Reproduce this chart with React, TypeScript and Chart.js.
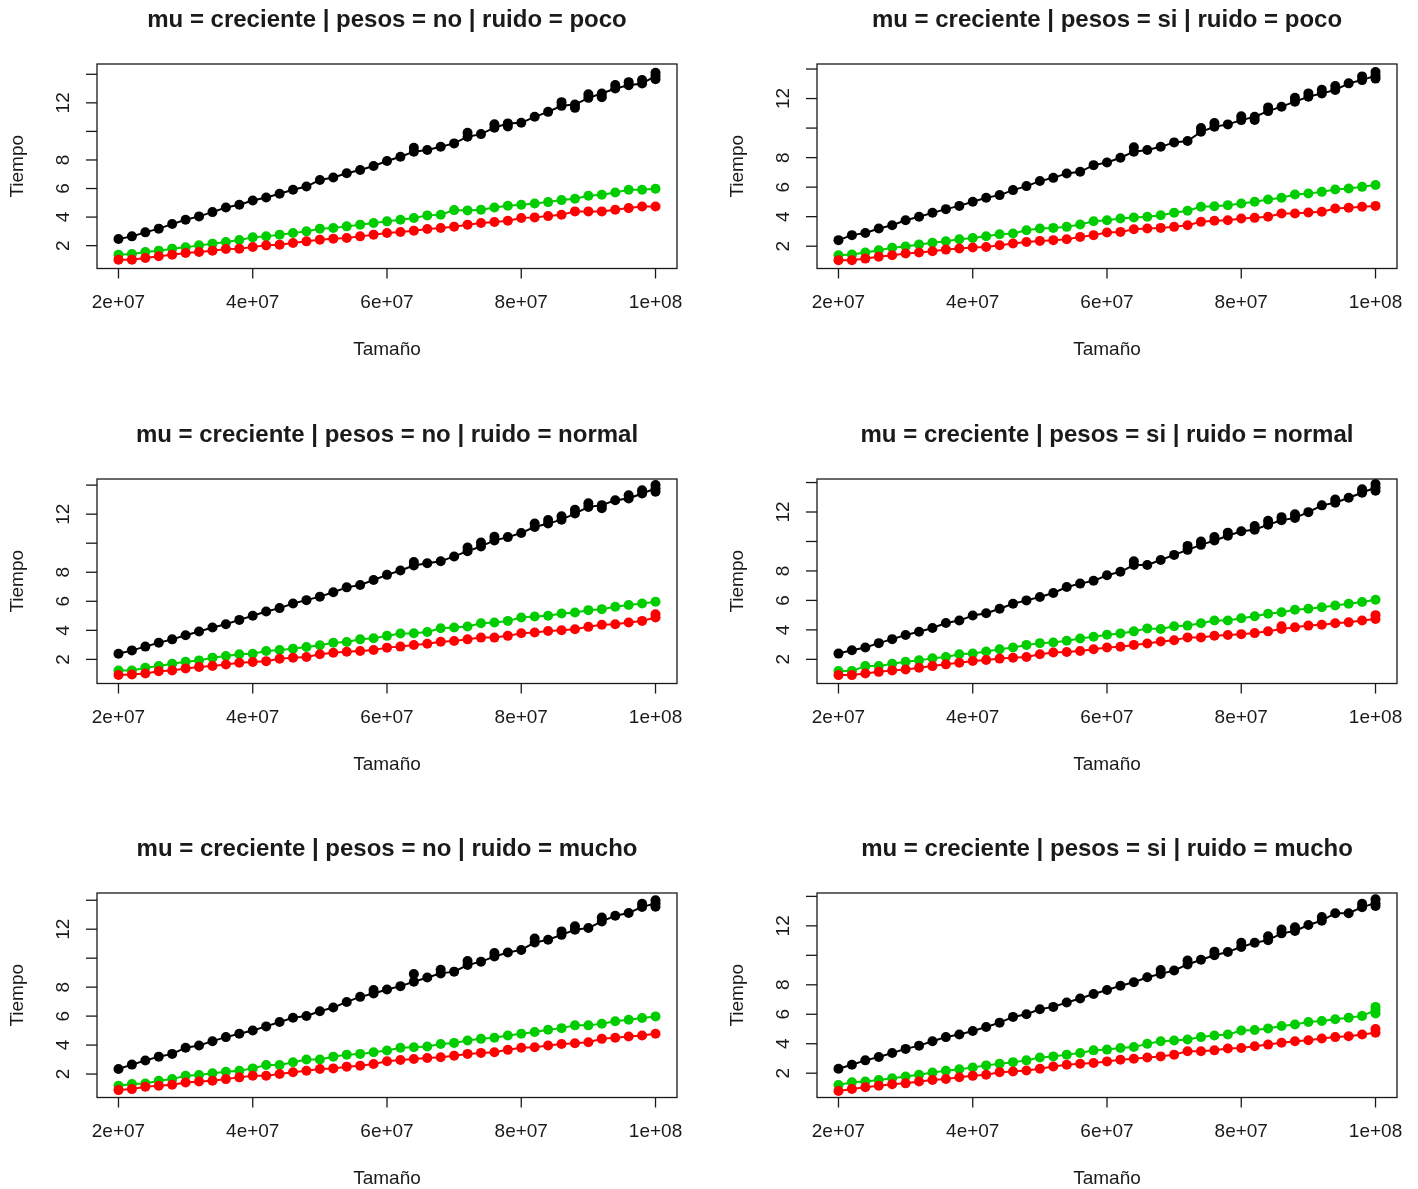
import React, { useEffect, useRef } from "react";
import { Chart, registerables } from "chart.js";

Chart.register(...registerables);

// ---------- data ----------
const TAMANO_MILLONES = [
  20, 22, 24, 26, 28, 30, 32, 34, 36, 38, 40, 42, 44, 46, 48, 50, 52, 54, 56, 58, 60,
  62, 64, 66, 68, 70, 72, 74, 76, 78, 80, 82, 84, 86, 88, 90, 92, 94, 96, 98, 100,
];

const TITULOS = [
  "mu = creciente | pesos = no | ruido = poco",
  "mu = creciente | pesos = si | ruido = poco",
  "mu = creciente | pesos = no | ruido = normal",
  "mu = creciente | pesos = si | ruido = normal",
  "mu = creciente | pesos = no | ruido = mucho",
  "mu = creciente | pesos = si | ruido = mucho",
];

const X_TICKS = [2e7, 4e7, 6e7, 8e7, 1e8];
const X_TICK_LABELS = ["2e+07", "4e+07", "6e+07", "8e+07", "1e+08"];
const Y_TICKS = [2, 4, 6, 8, 10, 12, 14];
const Y_TICK_LABELS = ["2", "4", "6", "8", "", "12", ""];
const X_LIMITS = [1.68e7, 1.032e8];
const Y_MIN = [0.4, 0.49, 0.34, 0.36, 0.38, 0.35];
const Y_MAX = [14.72, 14.34, 14.42, 14.24, 14.5, 14.23];

// panel 1: pesos = no, ruido = poco
const P1_NEGRO = [2.47, 2.65, 2.93, 3.19, 3.51, 3.81, 4.05, 4.35, 4.67, 4.86, 5.16, 5.37, 5.63, 5.91, 6.14, 6.6, 6.77, 7.07, 7.3, 7.58, 7.93, 8.23, 8.58, 8.7, 8.93, 9.16, 9.63, 9.81, 10.26, 10.56, 10.6, 11.02, 11.37, 11.79, 11.88, 12.35, 12.65, 13.0, 13.23, 13.35, 13.88];
const P1_VERDE = [1.37, 1.42, 1.56, 1.65, 1.79, 1.88, 2.02, 2.14, 2.26, 2.4, 2.58, 2.65, 2.77, 2.88, 3.0, 3.19, 3.23, 3.35, 3.47, 3.58, 3.7, 3.81, 3.93, 4.12, 4.16, 4.49, 4.47, 4.51, 4.67, 4.79, 4.86, 4.95, 5.05, 5.19, 5.28, 5.49, 5.56, 5.72, 5.91, 5.91, 5.98];
const P1_ROJO = [1.02, 1.02, 1.14, 1.26, 1.37, 1.49, 1.56, 1.65, 1.77, 1.79, 1.91, 2.02, 2.07, 2.19, 2.3, 2.42, 2.49, 2.53, 2.65, 2.77, 2.88, 2.95, 3.05, 3.16, 3.23, 3.33, 3.47, 3.58, 3.65, 3.74, 3.93, 3.98, 4.07, 4.16, 4.4, 4.4, 4.4, 4.51, 4.63, 4.74, 4.74];
// extra replicate points (visible vertical stacks)
const P1_REP_NEGRO_X = [64, 72, 76, 78, 86, 88, 90, 92, 94, 96, 98, 100, 100];
const P1_REP_NEGRO_Y = [8.85, 9.9, 10.5, 10.35, 12.05, 11.65, 12.6, 12.4, 13.25, 13.45, 13.6, 14.1, 13.65];

// panel 2: pesos = si, ruido = poco
const P2_NEGRO = [2.41, 2.75, 2.9, 3.2, 3.42, 3.76, 3.99, 4.26, 4.51, 4.73, 5.01, 5.28, 5.46, 5.8, 6.07, 6.41, 6.63, 6.93, 7.04, 7.49, 7.67, 7.99, 8.4, 8.51, 8.73, 9.03, 9.12, 9.75, 10.09, 10.25, 10.54, 10.77, 11.15, 11.45, 11.79, 12.12, 12.35, 12.58, 13.03, 13.25, 13.55];
const P2_VERDE = [1.39, 1.44, 1.57, 1.73, 1.89, 1.98, 2.11, 2.23, 2.34, 2.47, 2.56, 2.68, 2.81, 2.86, 3.08, 3.2, 3.24, 3.31, 3.47, 3.69, 3.76, 3.88, 3.94, 3.99, 4.1, 4.26, 4.4, 4.67, 4.71, 4.78, 4.89, 5.01, 5.16, 5.28, 5.5, 5.57, 5.68, 5.84, 5.91, 6.02, 6.14];
const P2_ROJO = [1.05, 1.05, 1.16, 1.28, 1.39, 1.5, 1.57, 1.66, 1.77, 1.84, 1.91, 1.95, 2.07, 2.18, 2.29, 2.36, 2.41, 2.47, 2.63, 2.75, 2.93, 2.97, 3.15, 3.2, 3.24, 3.31, 3.42, 3.65, 3.72, 3.76, 3.88, 3.92, 3.99, 4.21, 4.21, 4.28, 4.33, 4.55, 4.6, 4.67, 4.73];
const P2_REP_NEGRO_X = [64, 74, 76, 80, 82, 84, 88, 90, 92, 94, 98, 100, 100];
const P2_REP_NEGRO_Y = [8.7, 10.0, 10.35, 10.8, 10.55, 11.4, 12.05, 12.35, 12.6, 12.85, 13.5, 13.8, 13.35];

// panel 3: pesos = no, ruido = normal
const P3_NEGRO = [2.39, 2.62, 2.88, 3.15, 3.38, 3.66, 3.92, 4.19, 4.42, 4.72, 5.0, 5.3, 5.53, 5.85, 6.08, 6.32, 6.62, 6.96, 7.12, 7.47, 7.82, 8.12, 8.46, 8.62, 8.76, 9.09, 9.45, 9.78, 10.19, 10.42, 10.7, 11.12, 11.35, 11.62, 12.04, 12.5, 12.62, 12.96, 13.08, 13.42, 13.77];
const P3_VERDE = [1.24, 1.24, 1.42, 1.54, 1.7, 1.84, 1.93, 2.12, 2.23, 2.35, 2.39, 2.58, 2.65, 2.74, 2.85, 2.97, 3.15, 3.2, 3.38, 3.45, 3.62, 3.78, 3.8, 3.89, 4.15, 4.19, 4.26, 4.49, 4.54, 4.65, 4.88, 4.95, 5.0, 5.16, 5.23, 5.39, 5.46, 5.62, 5.74, 5.85, 5.97];
const P3_ROJO = [0.92, 0.96, 1.03, 1.19, 1.24, 1.38, 1.47, 1.54, 1.65, 1.77, 1.82, 1.88, 2.05, 2.12, 2.16, 2.35, 2.46, 2.53, 2.58, 2.65, 2.81, 2.88, 2.99, 3.08, 3.22, 3.27, 3.38, 3.5, 3.5, 3.62, 3.8, 3.85, 3.96, 4.01, 4.08, 4.24, 4.38, 4.42, 4.54, 4.65, 4.88];
const P3_REP_NEGRO_X = [64, 72, 74, 76, 82, 84, 86, 88, 90, 92, 96, 98, 100, 100];
const P3_REP_NEGRO_Y = [8.7, 9.7, 10.05, 10.45, 11.35, 11.6, 11.85, 12.3, 12.75, 12.4, 13.3, 13.65, 14.0, 13.55];
const P3_REP_ROJO_X = [100];
const P3_REP_ROJO_Y = [5.1];

// panel 4: pesos = si, ruido = normal
const P4_NEGRO = [2.39, 2.62, 2.8, 3.1, 3.37, 3.65, 3.87, 4.13, 4.47, 4.63, 4.97, 5.13, 5.43, 5.77, 6.0, 6.23, 6.5, 6.91, 7.14, 7.33, 7.71, 7.94, 8.4, 8.4, 8.74, 9.09, 9.43, 9.77, 10.07, 10.39, 10.69, 10.8, 11.14, 11.44, 11.6, 11.99, 12.45, 12.63, 12.97, 13.31, 13.66];
const P4_VERDE = [1.2, 1.2, 1.54, 1.54, 1.7, 1.84, 1.93, 2.07, 2.16, 2.34, 2.39, 2.53, 2.69, 2.8, 2.98, 3.1, 3.14, 3.26, 3.42, 3.53, 3.67, 3.76, 3.9, 4.1, 4.06, 4.24, 4.29, 4.45, 4.63, 4.63, 4.79, 4.93, 5.09, 5.2, 5.36, 5.43, 5.54, 5.66, 5.77, 5.89, 6.05];
const P4_ROJO = [0.93, 0.93, 1.04, 1.15, 1.25, 1.31, 1.43, 1.54, 1.66, 1.77, 1.89, 1.95, 2.05, 2.11, 2.16, 2.34, 2.46, 2.5, 2.57, 2.69, 2.8, 2.85, 2.98, 3.07, 3.21, 3.3, 3.49, 3.49, 3.6, 3.65, 3.71, 3.78, 3.9, 4.06, 4.17, 4.29, 4.35, 4.45, 4.51, 4.63, 4.74];
const P4_REP_NEGRO_X = [64, 72, 74, 76, 78, 82, 84, 86, 88, 94, 98, 100, 100];
const P4_REP_NEGRO_Y = [8.65, 9.7, 10.0, 10.3, 10.6, 11.05, 11.4, 11.65, 11.85, 12.85, 13.55, 13.9, 13.45];
const P4_REP_ROJO_X = [86, 100];
const P4_REP_ROJO_Y = [4.25, 5.0];

// panel 5: pesos = no, ruido = mucho
const P5_NEGRO = [2.35, 2.65, 2.93, 3.2, 3.39, 3.81, 3.97, 4.27, 4.55, 4.78, 5.01, 5.29, 5.59, 5.89, 6.01, 6.33, 6.59, 6.98, 7.33, 7.56, 7.84, 8.07, 8.37, 8.67, 8.95, 9.07, 9.53, 9.76, 10.11, 10.39, 10.57, 11.08, 11.27, 11.61, 11.96, 12.08, 12.54, 12.93, 13.12, 13.54, 13.77];
const P5_VERDE = [1.19, 1.31, 1.35, 1.54, 1.65, 1.88, 1.93, 2.05, 2.16, 2.23, 2.39, 2.63, 2.63, 2.81, 3.0, 3.0, 3.2, 3.34, 3.39, 3.51, 3.62, 3.81, 3.85, 3.9, 4.08, 4.15, 4.32, 4.43, 4.5, 4.66, 4.78, 4.9, 5.06, 5.17, 5.36, 5.36, 5.47, 5.64, 5.75, 5.87, 5.98];
const P5_ROJO = [0.89, 0.96, 1.12, 1.19, 1.26, 1.42, 1.49, 1.54, 1.65, 1.77, 1.88, 1.88, 2.0, 2.12, 2.23, 2.35, 2.39, 2.51, 2.58, 2.69, 2.88, 2.97, 3.04, 3.11, 3.16, 3.27, 3.39, 3.46, 3.51, 3.67, 3.81, 3.85, 3.97, 4.08, 4.13, 4.2, 4.43, 4.5, 4.59, 4.66, 4.78];
const P5_REP_NEGRO_X = [58, 64, 68, 72, 76, 82, 86, 88, 92, 98, 100, 100];
const P5_REP_NEGRO_Y = [7.8, 8.9, 9.2, 9.8, 10.35, 11.35, 11.85, 12.2, 12.8, 13.75, 14.0, 13.55];

// panel 6: pesos = si, ruido = mucho
const P6_NEGRO = [2.3, 2.57, 2.87, 3.1, 3.37, 3.65, 3.87, 4.17, 4.45, 4.63, 4.86, 5.13, 5.43, 5.82, 6.0, 6.34, 6.5, 6.8, 7.07, 7.37, 7.65, 7.94, 8.17, 8.51, 8.74, 8.97, 9.38, 9.7, 10.0, 10.23, 10.57, 10.85, 11.03, 11.49, 11.65, 12.06, 12.35, 12.86, 12.86, 13.27, 13.54];
const P6_VERDE = [1.2, 1.38, 1.43, 1.54, 1.66, 1.77, 1.89, 2.05, 2.16, 2.27, 2.39, 2.53, 2.64, 2.75, 2.87, 3.07, 3.14, 3.26, 3.37, 3.55, 3.6, 3.71, 3.78, 3.99, 4.17, 4.22, 4.29, 4.45, 4.56, 4.63, 4.9, 4.93, 5.04, 5.2, 5.31, 5.47, 5.54, 5.66, 5.77, 5.89, 6.27];
const P6_ROJO = [0.79, 0.93, 1.04, 1.15, 1.25, 1.31, 1.43, 1.54, 1.61, 1.73, 1.82, 1.89, 2.07, 2.11, 2.18, 2.3, 2.46, 2.57, 2.64, 2.69, 2.8, 2.91, 2.98, 3.07, 3.14, 3.26, 3.49, 3.49, 3.55, 3.67, 3.71, 3.83, 3.94, 4.06, 4.17, 4.24, 4.35, 4.45, 4.51, 4.63, 4.74];
const P6_REP_NEGRO_X = [68, 72, 76, 80, 84, 86, 88, 92, 98, 100, 100];
const P6_REP_NEGRO_Y = [9.0, 9.65, 10.25, 10.85, 11.3, 11.75, 11.9, 12.6, 13.5, 13.8, 13.35];
const P6_REP_VERDE_X = [100, 100];
const P6_REP_VERDE_Y = [6.5, 6.05];
const P6_REP_ROJO_X = [100];
const P6_REP_ROJO_Y = [5.0];

const EMPTY: number[] = [];

const PANELES = [
  { negro: P1_NEGRO, verde: P1_VERDE, rojo: P1_ROJO,
    rnx: P1_REP_NEGRO_X, rny: P1_REP_NEGRO_Y, rvx: EMPTY, rvy: EMPTY, rrx: EMPTY, rry: EMPTY },
  { negro: P2_NEGRO, verde: P2_VERDE, rojo: P2_ROJO,
    rnx: P2_REP_NEGRO_X, rny: P2_REP_NEGRO_Y, rvx: EMPTY, rvy: EMPTY, rrx: EMPTY, rry: EMPTY },
  { negro: P3_NEGRO, verde: P3_VERDE, rojo: P3_ROJO,
    rnx: P3_REP_NEGRO_X, rny: P3_REP_NEGRO_Y, rvx: EMPTY, rvy: EMPTY, rrx: P3_REP_ROJO_X, rry: P3_REP_ROJO_Y },
  { negro: P4_NEGRO, verde: P4_VERDE, rojo: P4_ROJO,
    rnx: P4_REP_NEGRO_X, rny: P4_REP_NEGRO_Y, rvx: EMPTY, rvy: EMPTY, rrx: P4_REP_ROJO_X, rry: P4_REP_ROJO_Y },
  { negro: P5_NEGRO, verde: P5_VERDE, rojo: P5_ROJO,
    rnx: P5_REP_NEGRO_X, rny: P5_REP_NEGRO_Y, rvx: EMPTY, rvy: EMPTY, rrx: EMPTY, rry: EMPTY },
  { negro: P6_NEGRO, verde: P6_VERDE, rojo: P6_ROJO,
    rnx: P6_REP_NEGRO_X, rny: P6_REP_NEGRO_Y, rvx: P6_REP_VERDE_X, rvy: P6_REP_VERDE_Y, rrx: P6_REP_ROJO_X, rry: P6_REP_ROJO_Y },
];

// ---------- layout ----------
const CANVAS_W = 700;
const CANVAS_H = 414;
const COL_LEFT = [0, 720];
const ROW_TOP = [0, 415, 829];
const FONT = '"Liberation Sans", Arial, Helvetica, sans-serif';
const INK = "#1a1a1a";
const NEGRO = "#000000";
const VERDE = "#00CD00";
const ROJO = "#FF0000";

const rAxesPlugin = {
  id: "rAxes",
  afterDraw(chart: any, _args: any, opts: any) {
    const { ctx, chartArea: a, scales } = chart;
    const xs = scales.x;
    const ys = scales.y;
    ctx.save();
    ctx.strokeStyle = INK;
    ctx.fillStyle = INK;
    ctx.lineWidth = 1.3;
    ctx.strokeRect(a.left, a.top, a.right - a.left, a.bottom - a.top);

    ctx.font = `19px ${FONT}`;
    ctx.textAlign = "center";
    ctx.textBaseline = "middle";
    X_TICKS.forEach((v, i) => {
      const px = xs.getPixelForValue(v);
      ctx.beginPath();
      ctx.moveTo(px, a.bottom);
      ctx.lineTo(px, a.bottom + 10);
      ctx.stroke();
      ctx.fillText(X_TICK_LABELS[i], px, a.bottom + 34);
    });
    Y_TICKS.forEach((v, i) => {
      if (v < ys.min || v > ys.max) return;
      const py = ys.getPixelForValue(v);
      ctx.beginPath();
      ctx.moveTo(a.left - 11, py);
      ctx.lineTo(a.left, py);
      ctx.stroke();
      if (Y_TICK_LABELS[i]) {
        ctx.save();
        ctx.translate(a.left - 33, py);
        ctx.rotate(-Math.PI / 2);
        ctx.fillText(Y_TICK_LABELS[i], 0, 0);
        ctx.restore();
      }
    });
    const cx = (a.left + a.right) / 2;
    const cy = (a.top + a.bottom) / 2;
    ctx.fillText("Tamaño", cx, a.bottom + 81);
    ctx.save();
    ctx.translate(a.left - 79, cy);
    ctx.rotate(-Math.PI / 2);
    ctx.fillText("Tiempo", 0, 0);
    ctx.restore();
    ctx.font = `bold 24px ${FONT}`;
    ctx.fillText(opts.title, cx, a.top - 44);
    ctx.restore();
  },
};

function Panel({ idx }: { idx: number }) {
  const ref = useRef<HTMLCanvasElement | null>(null);
  useEffect(() => {
    if (!ref.current) return;
    const p = PANELES[idx];
    const toPts = (arr: number[]) =>
      TAMANO_MILLONES.map((m, i) => ({ x: m * 1e6, y: arr[i] }));
    const toRep = (xm: number[], ys: number[]) =>
      xm.map((m, i) => ({ x: m * 1e6, y: ys[i] }));
    const style = (color: string, order: number, line: boolean) => ({
      borderColor: color,
      backgroundColor: color,
      pointBackgroundColor: color,
      pointBorderColor: color,
      pointBorderWidth: 0,
      pointRadius: 5,
      borderWidth: 2,
      showLine: line,
      tension: 0,
      order,
    });
    const chart = new Chart(ref.current, {
      type: "line",
      data: {
        datasets: [
          { label: "negro", data: toPts(p.negro), ...style(NEGRO, 3, true) },
          { label: "negro rep", data: toRep(p.rnx, p.rny), ...style(NEGRO, 3, false) },
          { label: "verde", data: toPts(p.verde), ...style(VERDE, 2, true) },
          { label: "verde rep", data: toRep(p.rvx, p.rvy), ...style(VERDE, 2, false) },
          { label: "rojo", data: toPts(p.rojo), ...style(ROJO, 1, true) },
          { label: "rojo rep", data: toRep(p.rrx, p.rry), ...style(ROJO, 1, false) },
        ],
      },
      options: {
        animation: false,
        responsive: false,
        devicePixelRatio: 1,
        layout: {
          padding: { left: 97, top: 64, right: CANVAS_W - 677, bottom: CANVAS_H - 268.5 },
        },
        scales: {
          x: { type: "linear", min: X_LIMITS[0], max: X_LIMITS[1], display: false },
          y: { type: "linear", min: Y_MIN[idx], max: Y_MAX[idx], display: false },
        },
        plugins: {
          legend: { display: false },
          title: { display: false },
          tooltip: { enabled: false },
          rAxes: { title: TITULOS[idx] },
        } as any,
      },
      plugins: [rAxesPlugin],
    } as any);
    return () => chart.destroy();
  }, [idx]);
  const col = idx % 2;
  const row = Math.floor(idx / 2);
  return (
    <canvas
      ref={ref}
      width={CANVAS_W}
      height={CANVAS_H}
      style={{
        position: "absolute",
        left: COL_LEFT[col],
        top: ROW_TOP[row],
        width: CANVAS_W,
        height: CANVAS_H,
      }}
    />
  );
}

export default function App() {
  return (
    <div
      style={{
        position: "absolute",
        left: 0,
        top: 0,
        width: 1418,
        height: 1189,
        overflow: "hidden",
        background: "#ffffff",
      }}
    >
      {PANELES.map((_, i) => (
        <Panel key={i} idx={i} />
      ))}
    </div>
  );
}
